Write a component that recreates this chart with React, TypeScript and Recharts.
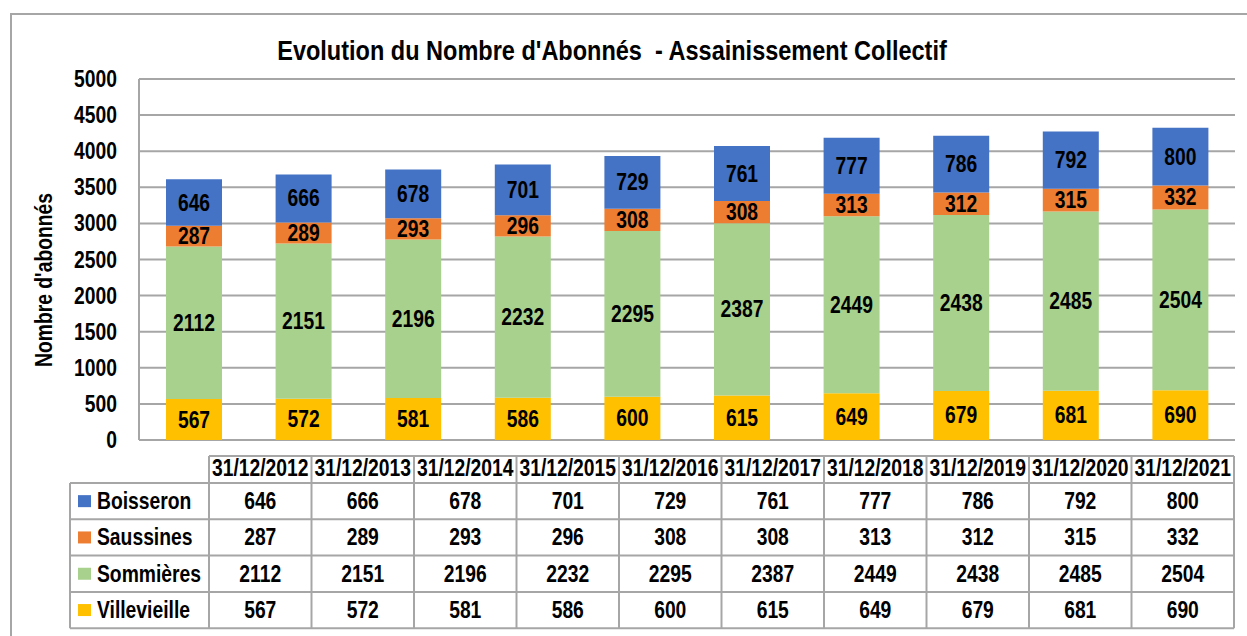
import React from "react"
import { Bar, BarChart, CartesianGrid, LabelList, XAxis, YAxis } from "recharts"

// Chart data
const dates = [
  "31/12/2012", "31/12/2013", "31/12/2014", "31/12/2015", "31/12/2016",
  "31/12/2017", "31/12/2018", "31/12/2019", "31/12/2020", "31/12/2021",
]
const villevieille = [567, 572, 581, 586, 600, 615, 649, 679, 681, 690]
const sommieres = [2112, 2151, 2196, 2232, 2295, 2387, 2449, 2438, 2485, 2504]
const saussines = [287, 289, 293, 296, 308, 308, 313, 312, 315, 332]
const boisseron = [646, 666, 678, 701, 729, 761, 777, 786, 792, 800]
const yTicks = [0, 500, 1000, 1500, 2000, 2500, 3000, 3500, 4000, 4500, 5000]

const series = [
  { key: "boisseron", name: "Boisseron", color: "#4472C4", values: boisseron },
  { key: "saussines", name: "Saussines", color: "#ED7D31", values: saussines },
  { key: "sommieres", name: "Sommières", color: "#A9D18E", values: sommieres },
  { key: "villevieille", name: "Villevieille", color: "#FFC000", values: villevieille },
]

const data = dates.map((d, i) => ({
  date: d,
  villevieille: villevieille[i],
  sommieres: sommieres[i],
  saussines: saussines[i],
  boisseron: boisseron[i],
}))

const FONT = "'Liberation Sans', Arial, sans-serif"
const GRID = "#A6A6A6"
const SQUEEZE = 0.84 // fake Arial Narrow

// stacking order bottom -> top
const stackOrder = ["villevieille", "sommieres", "saussines", "boisseron"]

// bold condensed text, x/y is the anchor point on the baseline
function NText({ x, y, anchor = "start", size = 23, rotate = 0, children }: any) {
  return (
    <text
      transform={`translate(${x} ${y}) rotate(${rotate}) scale(${SQUEEZE} 1)`}
      textAnchor={anchor}
      fontFamily={FONT}
      fontWeight="bold"
      fontSize={size}
      fill="#000"
    >
      {children}
    </text>
  )
}

function DataTable() {
  const left = 70
  const firstCol = 209
  const colW = 102.5
  const headTop = 456
  const rowTop = 483
  const rowH = 36.3
  const right = firstCol + colW * dates.length
  const bottom = rowTop + rowH * series.length
  const lines = []
  lines.push(<line key="h0" x1={firstCol} x2={right} y1={headTop} y2={headTop} />)
  for (let r = 0; r <= series.length; r++) {
    const y = rowTop + r * rowH
    lines.push(<line key={"h" + (r + 1)} x1={left} x2={right} y1={y} y2={y} />)
  }
  lines.push(<line key="v0" x1={left} x2={left} y1={rowTop} y2={bottom} />)
  for (let c = 0; c <= dates.length; c++) {
    const x = firstCol + c * colW
    lines.push(<line key={"v" + (c + 1)} x1={x} x2={x} y1={headTop} y2={bottom} />)
  }

  return (
    <g>
      <g stroke={GRID} strokeWidth={2}>{lines}</g>
      {dates.map((d, c) => (
        <NText key={d} x={firstCol + c * colW + colW / 2} y={476} anchor="middle">
          {d}
        </NText>
      ))}
      {series.map((s, r) => {
        const cy = rowTop + r * rowH + rowH / 2
        return (
          <g key={s.key}>
            <rect x={78} y={cy - 6} width={13} height={12} fill={s.color} />
            <NText x={97} y={cy + 8}>{s.name}</NText>
            {s.values.map((v, c) => (
              <NText key={c} x={firstCol + c * colW + colW / 2} y={cy + 8} anchor="middle">
                {v}
              </NText>
            ))}
          </g>
        )
      })}
    </g>
  )
}

export default function App() {
  return (
    <div style={{ position: "absolute", left: 0, top: 0, width: 1247, height: 636, overflow: "hidden", background: "#fff" }}>
      <div style={{ position: "absolute", left: 10, top: 13, width: 1300, height: 700, borderLeft: `2px solid ${GRID}`, borderTop: `2px solid ${GRID}` }} />
      <div style={{ position: "absolute", left: 0, top: 0 }}>
        <BarChart width={1247} height={460} data={data} margin={{ top: 79, right: 12, left: 0, bottom: 20 }} barSize={56}>
          <CartesianGrid vertical={false} stroke={GRID} strokeWidth={2} />
          <XAxis dataKey="date" hide />
          <YAxis
            width={139}
            domain={[0, 5000]}
            ticks={yTicks}
            interval={0}
            tickLine={false}
            axisLine={{ stroke: GRID, strokeWidth: 2 }}
            tick={(p: any) => (
              <NText x={117} y={p.y + 8} anchor="end">
                {p.payload.value}
              </NText>
            )}
          />
          {stackOrder.map((k) => {
            const s = series.find((x) => x.key === k)!
            return (
              <Bar key={k} dataKey={k} name={s.name} stackId="a" fill={s.color} isAnimationActive={false}>
                <LabelList
                  dataKey={k}
                  content={(p: any) => (
                    <NText x={p.x + p.width / 2} y={p.y + p.height / 2 + 8} anchor="middle">
                      {p.value}
                    </NText>
                  )}
                />
              </Bar>
            )
          })}
        </BarChart>
      </div>
      <svg width={1247} height={636} style={{ position: "absolute", left: 0, top: 0, pointerEvents: "none" }}>
        <NText x={612} y={60} anchor="middle" size={28}>
          Evolution du Nombre d'Abonnés{"\u00a0\u00a0"}- Assainissement Collectif
        </NText>
        <NText x={52} y={280} anchor="middle" rotate={-90}>
          Nombre d'abonnés
        </NText>
        <DataTable />
      </svg>
    </div>
  )
}
